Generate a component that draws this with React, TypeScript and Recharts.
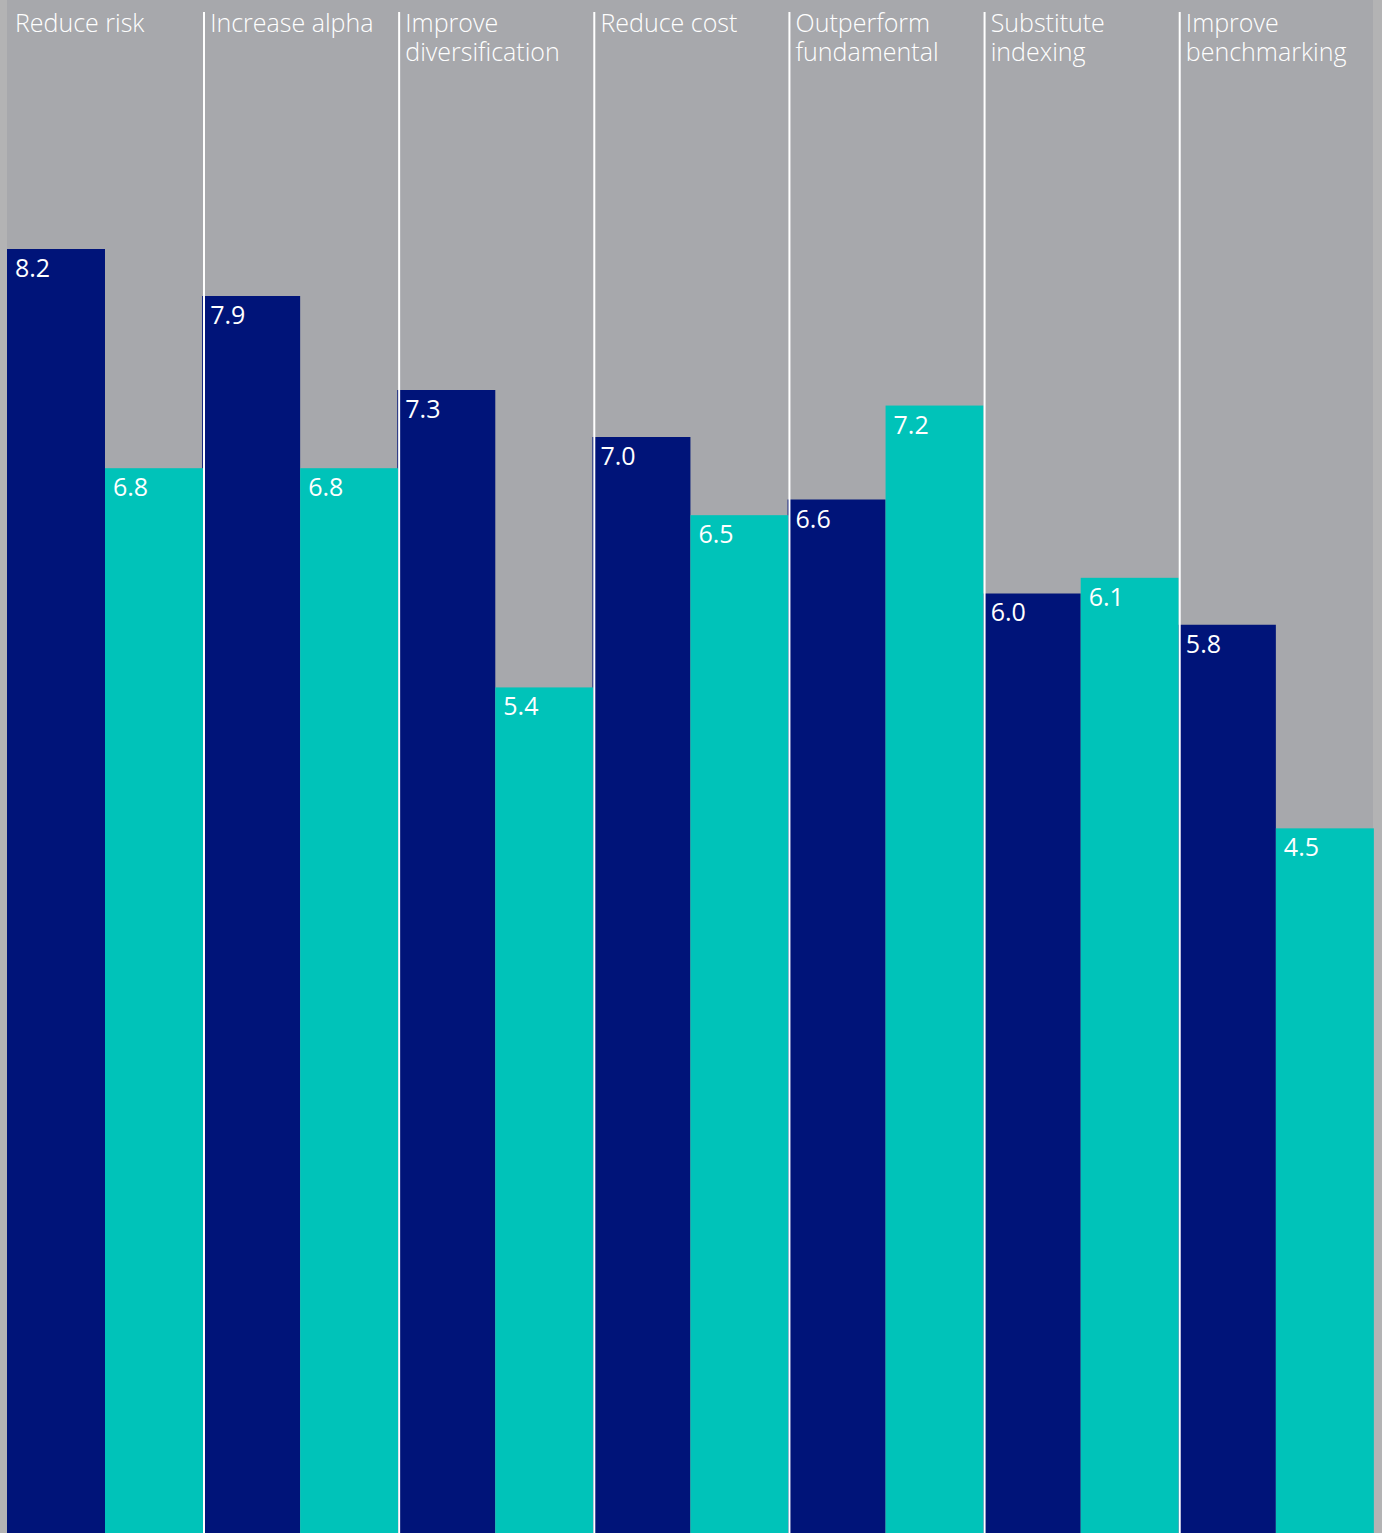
import { BarChart, Bar, XAxis, YAxis, CartesianGrid, LabelList } from 'recharts'

const categories = [
  'Reduce risk',
  'Increase alpha',
  'Improve\ndiversification',
  'Reduce cost',
  'Outperform\nfundamental',
  'Substitute\nindexing',
  'Improve\nbenchmarking',
]
const navyValues = [8.2, 7.9, 7.3, 7.0, 6.6, 6.0, 5.8]
const tealValues = [6.8, 6.8, 5.4, 6.5, 7.2, 6.1, 4.5]

const NAVY = '#001479'
const TEAL = '#00c3b9'
const PANEL = '#a7a8ac'
const FONT = '"Open Sans", "Noto Sans", sans-serif'

const data = categories.map((name, i) => ({ name, navy: navyValues[i], teal: tealValues[i] }))

const CategoryLabel = (props: any) => {
  const { x, value } = props
  const lines = String(value).split('\n')
  return (
    <g>
      {lines.map((l, i) => (
        <text key={i} x={x + 8} y={32 + i * 29} fill="#fff" fontSize={25} fontFamily={FONT} fontWeight={300}>
          {l}
        </text>
      ))}
    </g>
  )
}

const ValueLabel = (props: any) => {
  const { x, y, value } = props
  return (
    <text x={x + 8} y={y + 28} fill="#fff" fontSize={25} fontFamily={FONT} fontWeight={400}>
      {Number(value).toFixed(1)}
    </text>
  )
}

// teal bar also draws the white divider on its right edge (except the last group)
const TealShape = (props: any) => {
  const { x, y, width, height, index, background } = props
  const bottom = background ? background.y + background.height : y + height
  return (
    <g>
      <rect x={x} y={y} width={width} height={height} fill={TEAL} />
      {index < categories.length - 1 && (
        <rect x={x + width} y={12} width={2} height={bottom - 12} fill="#fff" />
      )}
    </g>
  )
}

export default function App() {
  return (
    <div style={{ position: 'absolute', left: 0, top: 0, width: 1382, height: 1533, background: '#b3b3b4' }}>
      <BarChart
        width={1382}
        height={1533}
        data={data}
        margin={{ top: 0, right: 9, bottom: 0, left: 7 }}
        barCategoryGap={0}
        barGap={0}
      >
        <CartesianGrid horizontal={false} vertical={false} fill={PANEL} stroke="none" />
        <XAxis dataKey="name" hide />
        <YAxis hide domain={[0, 9.79]} />
        <Bar dataKey="navy" fill={NAVY} isAnimationActive={false}>
          <LabelList dataKey="navy" content={ValueLabel} />
          <LabelList dataKey="name" content={CategoryLabel} />
        </Bar>
        <Bar dataKey="teal" fill={TEAL} shape={TealShape} isAnimationActive={false}>
          <LabelList dataKey="teal" content={ValueLabel} />
        </Bar>
      </BarChart>
    </div>
  )
}
